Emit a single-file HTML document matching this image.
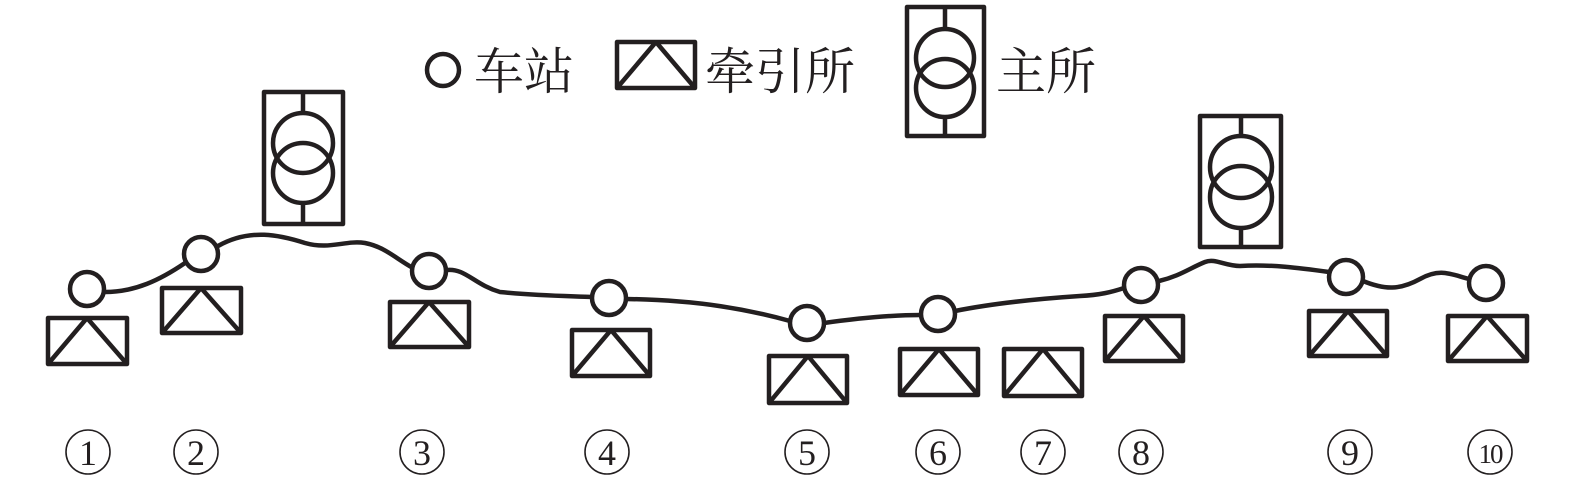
<!DOCTYPE html>
<html><head><meta charset="utf-8"><style>html,body{margin:0;padding:0;background:#fff}</style></head>
<body>
<svg width="1575" height="482" viewBox="0 0 1575 482" xmlns="http://www.w3.org/2000/svg">
<g fill="none" stroke="#231f20" stroke-width="4.5" stroke-linejoin="round">
<path d="M105,292 C135,292 160,280 185,263"/>
<path d="M218,246 C250,228 280,235 305,243 C330,250 345,240 365,243 C385,247 395,258 413,268"/>
<path d="M447,270 C465,268 475,285 500,292 C540,296 570,296 592,297"/>
<path d="M626,299 C700,300 750,310 790,321"/>
<path d="M824,323 C860,318 895,315 921,315"/>
<path d="M955,311 C1000,302 1050,298 1080,296 C1100,295 1112,292 1124,288"/>
<path d="M1159,281 C1180,276 1190,268 1205,262 C1215,258 1225,266 1240,266 C1270,264 1300,268 1329,272"/>
<path d="M1363,281 C1385,290 1400,290 1420,279 C1440,268 1450,274 1469,279"/>
<circle cx="87" cy="289" r="17"/>
<circle cx="201" cy="254" r="17"/>
<circle cx="429" cy="271" r="17"/>
<circle cx="609" cy="298" r="17"/>
<circle cx="807" cy="323" r="17"/>
<circle cx="938" cy="314" r="17"/>
<circle cx="1141" cy="285" r="17"/>
<circle cx="1346" cy="277" r="17"/>
<circle cx="1486" cy="283" r="17"/>
<circle cx="443" cy="70" r="16"/>
<path d="M48,318 H127 V364 H48 Z M48,364 L87,318 L127,364"/>
<path d="M162,288 H241 V333 H162 Z M162,333 L201,288 L241,333"/>
<path d="M390,302 H469 V347 H390 Z M390,347 L429,302 L469,347"/>
<path d="M572,330 H650 V376 H572 Z M572,376 L611,330 L650,376"/>
<path d="M769,356 H847 V403 H769 Z M769,403 L808,356 L847,403"/>
<path d="M900,349 H978 V395 H900 Z M900,395 L939,349 L978,395"/>
<path d="M1004,349 H1082 V396 H1004 Z M1004,396 L1043,349 L1082,396"/>
<path d="M1105,316 H1183 V361 H1105 Z M1105,361 L1144,316 L1183,361"/>
<path d="M1309,311 H1387 V356 H1309 Z M1309,356 L1348,311 L1387,356"/>
<path d="M1448,316 H1527 V361 H1448 Z M1448,361 L1487,316 L1527,361"/>
<path d="M617,42 H695 V88 H617 Z M617,88 L656,42 L695,88"/>
<rect x="264" y="92" width="79" height="132"/>
<path d="M303,92 V113 M303,203 V224"/>
<circle cx="303" cy="143" r="30"/><circle cx="303" cy="173" r="30"/>
<rect x="1200" y="116" width="81" height="131"/>
<path d="M1241,116 V136 M1241,228 V247"/>
<circle cx="1241" cy="167" r="31"/><circle cx="1241" cy="197" r="31"/>
<rect x="907" y="7" width="77" height="129"/>
<path d="M945,7 V28 M945,118 V136"/>
<circle cx="945" cy="58" r="29"/><circle cx="945" cy="88" r="29"/>
</g>
<g font-family="'Liberation Serif','Noto Serif CJK SC',serif" fill="#231f20" font-size="50">
<text x="474" y="89">车站</text>
<text x="705" y="89">牵引所</text>
<text x="996" y="89">主所</text>
</g>
<g fill="none" stroke="#231f20" stroke-width="1.6">
<circle cx="88" cy="452" r="22"/><circle cx="196" cy="452" r="22"/><circle cx="422" cy="452" r="22"/>
<circle cx="607" cy="452" r="22"/><circle cx="807" cy="452" r="22"/><circle cx="938" cy="452" r="22"/>
<circle cx="1043" cy="452" r="22"/><circle cx="1141" cy="452" r="22"/><circle cx="1350" cy="452" r="22"/>
<circle cx="1490" cy="452" r="22"/>
</g>
<g font-family="'Liberation Serif',serif" fill="#231f20" font-size="36" text-anchor="middle">
<text x="88" y="465">1</text><text x="196" y="465">2</text><text x="422" y="465">3</text>
<text x="607" y="465">4</text><text x="807" y="465">5</text><text x="938" y="465">6</text>
<text x="1043" y="465">7</text><text x="1141" y="465">8</text><text x="1350" y="465">9</text>
<text x="1490" y="463" font-size="27" letter-spacing="-2">10</text>
</g>
</svg>
</body></html>
